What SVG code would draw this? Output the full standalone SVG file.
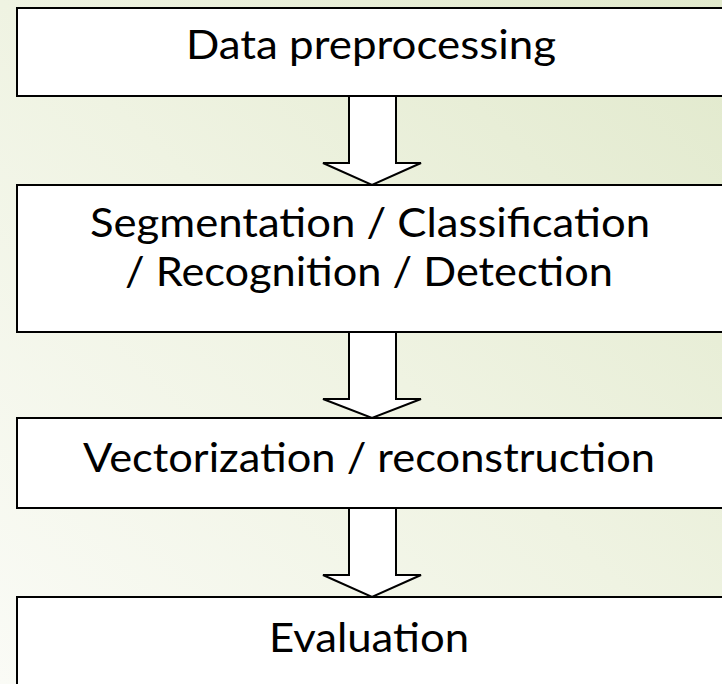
<svg xmlns="http://www.w3.org/2000/svg" width="722" height="684" viewBox="0 0 722 684">
  <defs>
    <linearGradient id="bg" x1="0" y1="1" x2="1" y2="0">
      <stop offset="0" stop-color="#fafbf6"/>
      <stop offset="0.5" stop-color="#eff3e2"/>
      <stop offset="1" stop-color="#e1e9cc"/>
    </linearGradient>
  </defs>
  <style>
    .box { fill: #ffffff; stroke: #000000; stroke-width: 2; }
    .arrow { fill: #ffffff; stroke: #000000; stroke-width: 2; stroke-linejoin: miter; }
    .lbl { font-family: Lato, "Open Sans", "Liberation Sans", sans-serif; font-size: 40px; fill: #000000; text-anchor: middle; }
  </style>
  <rect x="0" y="0" width="722" height="684" fill="url(#bg)"/>

  <g id="connectors">
    <polygon class="arrow" points="349,96 396,96 396,163 421,163 372,185 323,163 349,163"/>
    <polygon class="arrow" points="349,332 396,332 396,399 421,399 372,418 323,399 349,399"/>
    <polygon class="arrow" points="349,508 396,508 396,575 421,575 372,597 323,575 349,575"/>
  </g>

  <g id="node-data-preprocessing">
    <rect class="box" x="17" y="8" width="720" height="88"/>
    <text class="lbl" x="371" y="59" textLength="370" lengthAdjust="spacingAndGlyphs">Data preprocessing</text>
  </g>

  <g id="node-segmentation">
    <rect class="box" x="17" y="185" width="720" height="147"/>
    <text class="lbl" x="370" y="237" textLength="560" lengthAdjust="spacingAndGlyphs">Segmentation / Classification</text>
    <text class="lbl" x="369" y="286" textLength="488" lengthAdjust="spacingAndGlyphs">/ Recognition / Detection</text>
  </g>

  <g id="node-vectorization">
    <rect class="box" x="17" y="418" width="720" height="90"/>
    <text class="lbl" x="369" y="472" textLength="572" lengthAdjust="spacingAndGlyphs">Vectorization / reconstruction</text>
  </g>

  <g id="node-evaluation">
    <rect class="box" x="17" y="597" width="720" height="110"/>
    <text class="lbl" x="369" y="652" textLength="200" lengthAdjust="spacingAndGlyphs">Evaluation</text>
  </g>
</svg>
